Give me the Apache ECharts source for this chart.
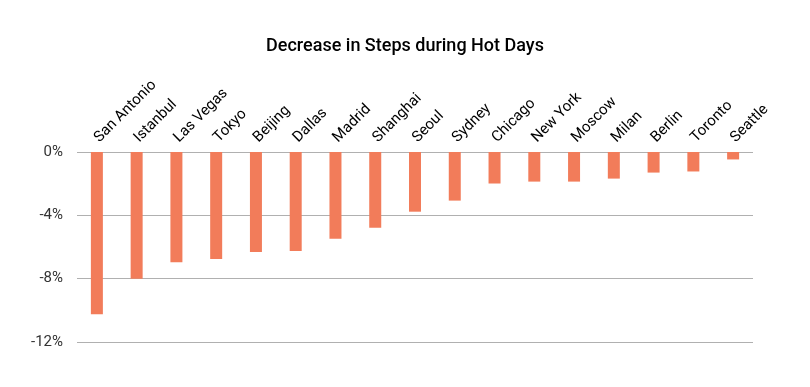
<!DOCTYPE html>
<html><head><meta charset="utf-8">
<script src="https://cdn.jsdelivr.net/npm/echarts@6/dist/echarts.min.js"></script>
<style>html,body{margin:0;padding:0;background:#fff}#c{width:810px;height:387px}</style>
</head><body><div id="c"></div>
<script>
const categories = ["San Antonio","Istanbul","Las Vegas","Tokyo","Beijing","Dallas","Madrid","Shanghai","Seoul","Sydney","Chicago","New York","Moscow","Milan","Berlin","Toronto","Seattle"];
const values = [-10.25,-8.0,-6.97,-6.75,-6.31,-6.25,-5.48,-4.79,-3.77,-3.07,-1.99,-1.87,-1.87,-1.68,-1.30,-1.23,-0.47];
const yTicks = [0,-4,-8,-12];
const chart = echarts.init(document.getElementById('c'), null, {renderer:'canvas'});
chart.setOption({
  animation:false,
  title:{text:'Decrease in Steps during Hot Days',left:'center',top:32,
    textStyle:{fontFamily:'Roboto',fontSize:18,fontWeight:500,color:'#000'}},
  grid:{left:77,right:57,top:152,bottom:45},
  xAxis:{type:'category',position:'top',data:categories,
    axisLine:{show:false},axisTick:{show:false},
    axisLabel:{rotate:45,interval:0,margin:12,fontFamily:'Roboto',fontSize:15,color:'#000'}},
  yAxis:{type:'value',min:-12,max:0,interval:4,
    axisLine:{show:false},axisTick:{show:false},
    splitLine:{lineStyle:{color:'#b0b0b0',width:1}},
    axisLabel:{fontFamily:'Roboto',fontSize:15,color:'#333',margin:14,
      formatter:v=>yTicks.includes(v)?v+'%':''}},
  series:[{type:'bar',data:values,barWidth:12,itemStyle:{color:'#F27C5A'}}]
});
</script></body></html>
